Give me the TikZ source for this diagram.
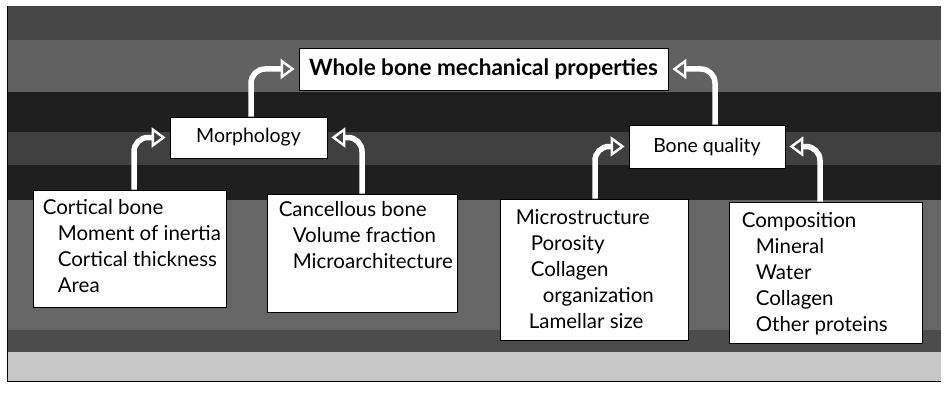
\documentclass[tikz,border=0pt]{standalone}
\usepackage{fontspec}
\setmainfont{Lato}
\usetikzlibrary{arrows.meta,calc}
\begin{document}
\begin{tikzpicture}[x=1pt,y=-1pt,
  box/.style={draw=black, line width=0.8pt, fill=white, inner sep=0pt},
  txt/.style={anchor=north west, align=left, inner sep=0pt, font={\fontsize{20.5}{26}\selectfont}},
  title/.style={font={\fontsize{22.5}{26}\selectfont\bfseries}},
  mid/.style={font={\fontsize{19.5}{24}\selectfont}},
  arr/.style={draw=white, line width=5.5pt, rounded corners=14pt, shorten >=4pt,
    -{Triangle[open, length=14pt, width=20pt, line width'=2.4pt]}}]
\useasboundingbox (0,0) rectangle (947,393);
\fill[white] (0,0) rectangle (947,393);
% textured panel approximated by bands
\fill[black!62] (7,6) rectangle (941,381);
\fill[black!72] (7,6) rectangle (941,40);
\fill[black!88] (7,92) rectangle (941,132);
\fill[black!75] (7,132) rectangle (941,165);
\fill[black!88] (7,165) rectangle (941,200);
\fill[black!60] (7,200) rectangle (941,330);
\fill[black!70] (7,330) rectangle (941,352);
\fill[black!22] (7,352) rectangle (941,381);
\draw[black, line width=1pt] (7,6) -- (7,381) -- (941,381);

% boxes
\node[box, title, minimum width=369pt, minimum height=42pt] (whole) at (483.5,69) {Whole bone mechanical properties};
\node[box, mid, minimum width=157pt, minimum height=41pt] (morph) at (248.5,137.5) {Morphology};
\node[box, mid, minimum width=156pt, minimum height=43pt] (qual) at (707,146.5) {Bone quality};
\node[box, minimum width=193pt, minimum height=117pt] (cort) at (129.5,248.5) {};
\node[box, minimum width=190pt, minimum height=118pt] (canc) at (362,253) {};
\node[box, minimum width=188pt, minimum height=141pt] (micro) at (594,269.5) {};
\node[box, minimum width=193pt, minimum height=141pt] (comp) at (825.5,272.5) {};

\node[txt] (cortT) at ($(cort.north west)+(10,10)$) {Cortical bone\\\hspace*{15pt}Moment of inertia\\\hspace*{15pt}Cortical thickness\\\hspace*{15pt}Area};
\node[txt] (cancT) at ($(canc.north west)+(12,8)$) {Cancellous bone\\\hspace*{14pt}Volume fraction\\\hspace*{14pt}Microarchitecture};
\node[txt] (microT) at ($(micro.north west)+(16,11)$) {Microstructure\\\hspace*{15pt}Porosity\\\hspace*{15pt}Collagen\\\hspace*{27pt}organization\\\hspace*{13pt}Lamellar size};
\node[txt] (compT) at ($(comp.north west)+(13,11)$) {Composition\\\hspace*{14pt}Mineral\\\hspace*{14pt}Water\\\hspace*{14pt}Collagen\\\hspace*{14pt}Other proteins};

% arrow columns
\coordinate (c1) at (134,0);
\coordinate (c2) at (251,0);
\coordinate (c3) at (362,0);
\coordinate (c4) at (715,0);
\coordinate (c5) at (595,0);
\coordinate (c6) at (820,0);

\draw[arr] (cort.north -| c1) |- (morph.west);
\draw[arr] (morph.north -| c2) |- (whole.west);
\draw[arr] (canc.north -| c3) |- (morph.east);
\draw[arr] (qual.north -| c4) |- (whole.east);
\draw[arr] (micro.north -| c5) |- (qual.west);
\draw[arr] (comp.north -| c6) |- (qual.east);
\end{tikzpicture}
\end{document}
